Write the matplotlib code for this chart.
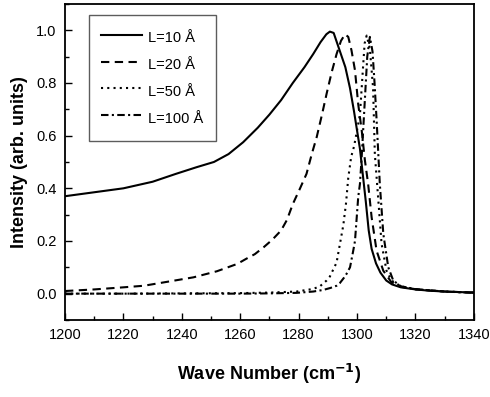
#!/usr/bin/env python3
# -*- coding: utf-8 -*-
"""
Raman line shape vs. correlation length L
"""

import matplotlib
matplotlib.use('Agg')
import matplotlib.pyplot as plt
from matplotlib import font_manager
from matplotlib.ticker import MultipleLocator

# ------------------------------  DATA  -----------------------------------
# L = 10 A (solid)
X10 = [1200, 1210, 1220, 1230, 1238, 1245, 1251, 1256, 1261, 1266, 1270,
       1274, 1278, 1282, 1285, 1287.5, 1289.5, 1290.7, 1292, 1294, 1296,
       1297.6, 1299, 1300, 1301, 1302, 1303, 1304, 1305, 1306.5, 1308,
       1310, 1312, 1315, 1320, 1325, 1330, 1335, 1340]
Y10 = [0.37, 0.385, 0.40, 0.425, 0.455, 0.48, 0.50, 0.53, 0.575, 0.63, 0.68,
       0.735, 0.80, 0.86, 0.91, 0.955, 0.985, 0.995, 0.99, 0.925, 0.86,
       0.78, 0.69, 0.62, 0.55, 0.45, 0.35, 0.24, 0.17, 0.115, 0.08,
       0.05, 0.035, 0.024, 0.016, 0.011, 0.008, 0.006, 0.004]

# L = 20 A (dashed)
X20 = [1200, 1210, 1220, 1227, 1235, 1244, 1252, 1259, 1262, 1265, 1268,
       1271, 1274, 1276, 1278, 1280.5, 1282.7, 1284.5, 1286.2, 1288, 1289.6,
       1291.3, 1293, 1294.5, 1295.9, 1297, 1298.1, 1299.3, 1300.4, 1301.6,
       1302.7, 1303.8, 1305, 1306.7, 1309, 1311.8, 1315, 1320, 1325, 1330,
       1335, 1340]
Y20 = [0.01, 0.016, 0.024, 0.03, 0.045, 0.062, 0.085, 0.113, 0.132, 0.15,
       0.176, 0.205, 0.24, 0.28, 0.34, 0.40, 0.455, 0.53, 0.595, 0.68, 0.76,
       0.84, 0.91, 0.96, 0.985, 0.975, 0.924, 0.848, 0.72, 0.62,
       0.506, 0.417, 0.29, 0.163, 0.087, 0.043, 0.026, 0.017, 0.012, 0.008,
       0.006, 0.004]

# L = 50 A (dotted)
X50 = [1200, 1220, 1240, 1260, 1270, 1279.3, 1285, 1287.3, 1289.6, 1290.7,
       1293, 1295.3, 1296.2, 1297, 1298, 1299, 1300, 1301, 1302, 1302.6,
       1303.3, 1304.4, 1305.5, 1306.1, 1307.3, 1308.4, 1310.1, 1311.8, 1315,
       1320, 1330, 1340]
Y50 = [0.0, 0.0, 0.001, 0.002, 0.004, 0.008, 0.018, 0.028, 0.05, 0.065,
       0.118, 0.26, 0.34, 0.44, 0.52, 0.56, 0.62, 0.68, 0.85, 0.95,
       0.98, 0.93, 0.78, 0.53, 0.354, 0.19, 0.087, 0.05, 0.028,
       0.017, 0.008, 0.004]

# L = 100 A (dash-dot)
X100 = [1200, 1240, 1260, 1270, 1279.3, 1285, 1288.4, 1291, 1293, 1294.1,
        1295.5, 1296.4, 1297.6, 1298.7, 1299.3, 1299.9, 1300.4, 1301, 1301.6,
        1302.5, 1303.5, 1304.4, 1305.3, 1306, 1306.7, 1307.8, 1309, 1310.7,
        1312.4, 1315, 1320, 1330, 1340]
Y100 = [0.0, 0.0, 0.0, 0.001, 0.003, 0.008, 0.014, 0.022, 0.03, 0.04,
        0.06, 0.075, 0.10, 0.163, 0.20, 0.29, 0.366, 0.417, 0.52,
        0.70, 0.90, 0.975, 0.92, 0.80, 0.66, 0.417, 0.227, 0.10,
        0.05, 0.028, 0.017, 0.008, 0.003]

LABELS = ['L=10 Å', 'L=20 Å', 'L=50 Å', 'L=100 Å']

# ------------------------------  MAIN BODY  -----------------------------
plt.rcParams['font.family'] = ['Liberation Sans', 'DejaVu Sans']

# narrow face for the tick labels if the system has it
names = {f.name for f in font_manager.fontManager.ttflist}
if 'Liberation Sans Narrow' in names:
    TICK_FONT, TICK_SIZE = 'Liberation Sans Narrow', 12.5
else:
    TICK_FONT, TICK_SIZE = 'Liberation Sans', 10.5

fig = plt.figure(figsize=(4.9, 3.97), dpi=100)
ax = fig.add_axes([0.1327, 0.194, 0.8343, 0.796])

lw = 1.5
ax.plot(X10, Y10, color='black', lw=lw, ls='-', label=LABELS[0])
ax.plot(X20, Y20, color='black', lw=lw, ls=(0, (4, 2.6)), label=LABELS[1])
ax.plot(X50, Y50, color='black', lw=lw, ls=(0, (1, 2)), label=LABELS[2])
ax.plot(X100, Y100, color='black', lw=lw, ls=(0, (3.6, 1.6, 1, 1.6)),
        label=LABELS[3])

ax.set_xlim(1200, 1340)
ax.set_ylim(-0.1, 1.1)
ax.xaxis.set_major_locator(MultipleLocator(20))
ax.xaxis.set_minor_locator(MultipleLocator(10))
ax.yaxis.set_major_locator(MultipleLocator(0.2))
ax.yaxis.set_minor_locator(MultipleLocator(0.1))
ax.set_yticks([0.0, 0.2, 0.4, 0.6, 0.8, 1.0])
ax.set_yticklabels(['0.0', '0.2', '0.4', '0.6', '0.8', '1.0'])

ax.tick_params(which='both', direction='in', top=False, right=False,
               width=1.0)
ax.tick_params(which='major', length=5, pad=6)
ax.tick_params(which='minor', length=3)
for lab in ax.get_xticklabels() + ax.get_yticklabels():
    lab.set_family(TICK_FONT)
    lab.set_fontsize(TICK_SIZE)
for sp in ax.spines.values():
    sp.set_linewidth(1.3)

ax.set_xlabel('Wave Number (cm$^{\\mathbf{-1}}$)', fontsize=13,
              fontweight='bold', labelpad=14)
ax.set_ylabel('Intensity (arb. units)', fontsize=13, fontweight='bold',
              labelpad=6)

leg = ax.legend(loc='upper left', bbox_to_anchor=(0.0587, 0.965),
                borderaxespad=0, fancybox=False, frameon=True,
                fontsize=10.5, handlelength=2.8, handletextpad=0.4,
                handleheight=1.8, labelspacing=0.42, borderpad=0.85)
leg.get_frame().set_edgecolor('#333333')
leg.get_frame().set_linewidth(1.0)

fig.savefig('out.png', dpi=100)
print('Done!')
# ------------------------------ END -----------------------------------
